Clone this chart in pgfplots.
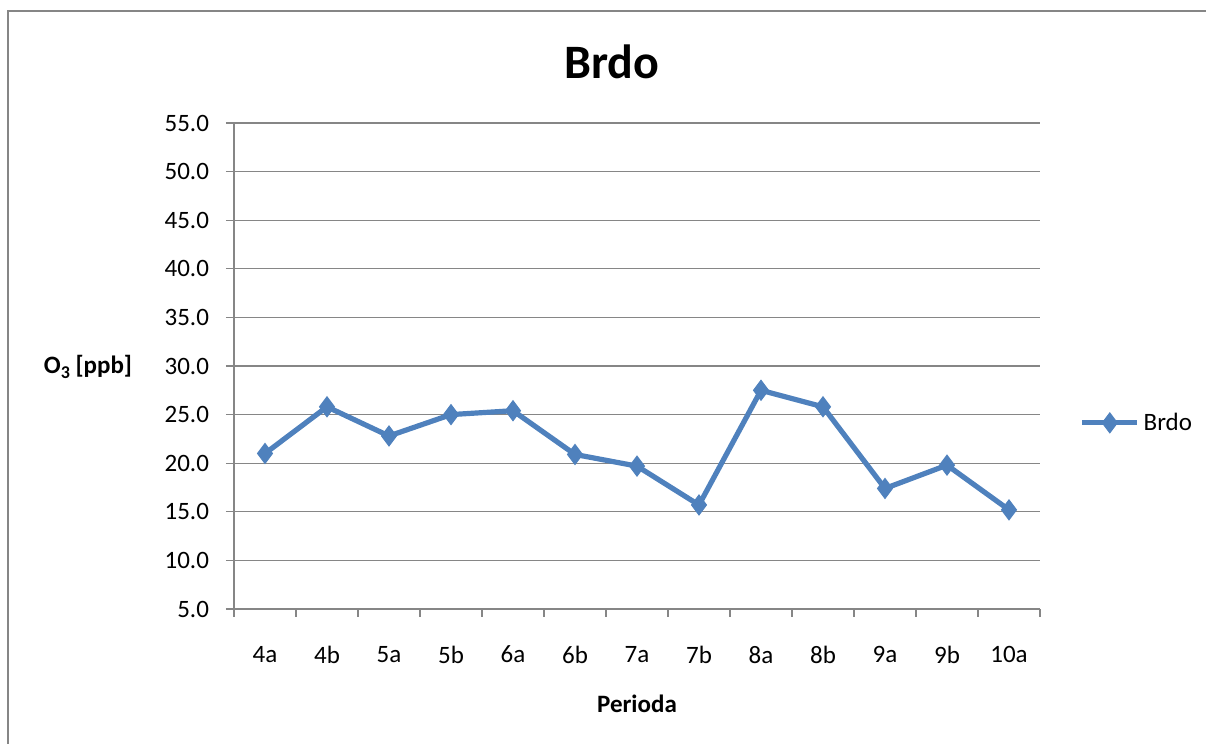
\documentclass[border=0pt]{standalone}
\usepackage{pgfplots}
\pgfplotsset{compat=1.18}
\usepackage{fontspec}
\setmainfont{Carlito}
\definecolor{exblue}{RGB}{79,129,189}
\definecolor{gridgray}{RGB}{134,134,134}
\begin{document}
\begin{tikzpicture}
\useasboundingbox (-117pt,-67.5pt) rectangle (486pt,304.5pt);
\draw[gridgray, line width=0.8pt] (-113pt,-67.5pt) -- (-113pt,299pt) -- (486pt,299pt);
\begin{axis}[
  scale only axis,
  width=403pt, height=243pt,
  at={(0pt,0pt)}, anchor=south west,
  xmin=-0.5, xmax=12.5,
  ymin=5, ymax=55,
  ytick={5,10,...,55},
  xtick={0,...,12},
  xticklabels={4a,4b,5a,5b,6a,6b,7a,7b,8a,8b,9a,9b,10a},
  minor xtick={-0.5,0.5,...,12.5},
  major x tick style={draw=none},
  minor tick length=4pt,
  major tick length=4pt,
  tick align=outside,
  axis x line*=bottom,
  axis y line*=left,
  axis line style={gridgray, line width=0.6pt, -},
  tick style={gridgray, line width=0.6pt},
  ymajorgrids,
  grid style={gridgray, line width=0.6pt},
  /pgf/number format/fixed,
  /pgf/number format/fixed zerofill,
  /pgf/number format/precision=1,
  /pgf/number format/assume math mode=true,
  yticklabel style={font=\fontsize{12.5}{15}\selectfont, xshift=-5pt},
  xticklabel style={font=\fontsize{12.5}{15}\selectfont, yshift=-11pt},
  legend style={at={(1.049,0.383)}, anchor=west, draw=none, fill=none, inner sep=0pt,
    font=\fontsize{12.5}{15}\selectfont},
  legend cell align=left,
  legend image code/.code={\draw[mark repeat=2, mark phase=2, #1] plot coordinates {(0cm,0cm) (0.48cm,0cm) (0.96cm,0cm)};},
  clip=false,
]
\addplot[exblue, line width=2.6pt, mark=diamond*, mark size=5pt, mark options={solid, fill=exblue, line width=0.5pt}]
  coordinates {
  (0,21.0) (1,25.8) (2,22.8) (3,25.0) (4,25.4) (5,20.9) (6,19.7)
  (7,15.7) (8,27.5) (9,25.8) (10,17.4) (11,19.8) (12,15.2)
  };
\addlegendentry{Brdo}
\end{axis}
\node[font=\fontsize{24}{28}\selectfont\bfseries] at (189pt,273.5pt) {Brdo};
\node[font=\fontsize{12.5}{15}\selectfont\bfseries] at (-73pt,121pt) {O\raisebox{-0.35ex}{\fontsize{9}{10}\selectfont\bfseries 3} [ppb]};
\node[font=\fontsize{12.5}{15}\selectfont\bfseries] at (201.5pt,-47.5pt) {Perioda};
\end{tikzpicture}
\end{document}
